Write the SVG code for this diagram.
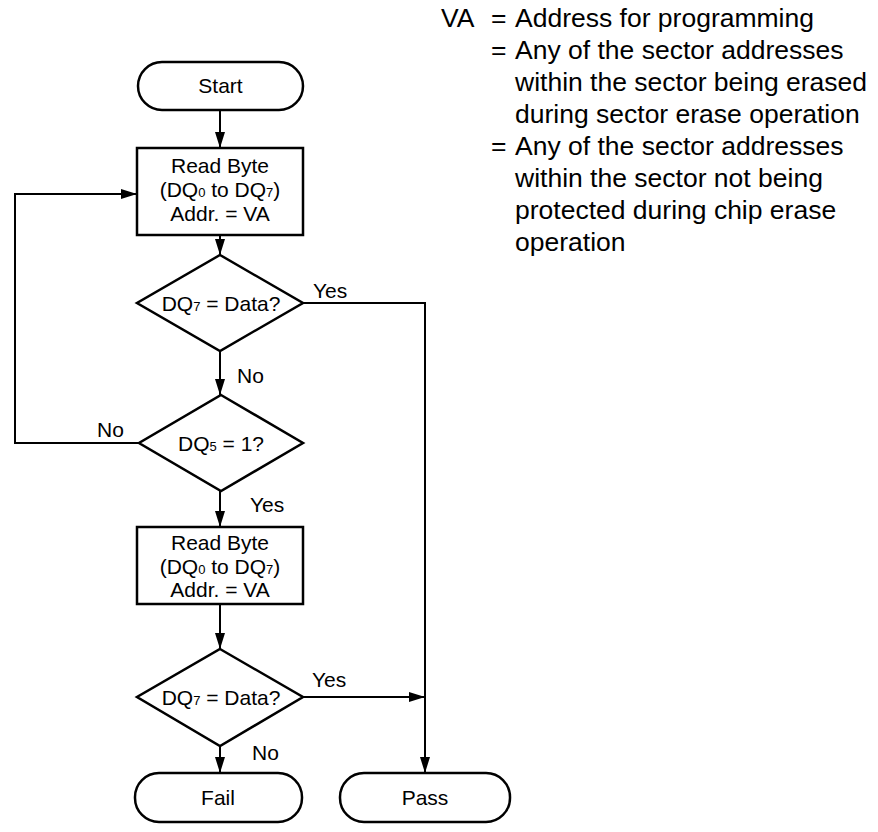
<svg xmlns="http://www.w3.org/2000/svg" width="878" height="832" viewBox="0 0 878 832">
<defs>
<marker id="ah" markerWidth="16" markerHeight="10" refX="16" refY="5" orient="auto" markerUnits="userSpaceOnUse">
<path d="M0,0 L16,5 L0,10 Z" fill="#000"/>
</marker>
<style>
.s{fill:#fff;stroke:#000;stroke-width:2.5}
.c{fill:none;stroke:#000;stroke-width:2}
.t{font-family:"Liberation Sans",Arial,sans-serif;font-size:21px;fill:#000}
.m{text-anchor:middle}
.n{font-family:"Liberation Sans",Arial,sans-serif;font-size:26.5px;fill:#000}
.sub{font-size:13px}
</style>
</defs>
<rect width="878" height="832" fill="#fff"/>

<g id="connectors">
<path class="c" d="M220,110 V148" marker-end="url(#ah)"/>
<path class="c" d="M220,235 V255" marker-end="url(#ah)"/>
<path class="c" d="M303,303 H425 V773" marker-end="url(#ah)"/>
<path class="c" d="M220,351 V395" marker-end="url(#ah)"/>
<path class="c" d="M139,443 H15 V194 H137" marker-end="url(#ah)"/>
<path class="c" d="M220,491 V527" marker-end="url(#ah)"/>
<path class="c" d="M220,604 V649" marker-end="url(#ah)"/>
<path class="c" d="M303,697 H425" marker-end="url(#ah)"/>
<path class="c" d="M220,746 V773" marker-end="url(#ah)"/>
<text class="t" x="313" y="298">Yes</text>
<text class="t" x="237" y="383">No</text>
<text class="t" x="97" y="437">No</text>
<text class="t" x="250" y="512">Yes</text>
<text class="t" x="312" y="687">Yes</text>
<text class="t" x="252" y="760">No</text>
</g>

<g id="start">
<rect class="s" x="138" y="62" width="165" height="48" rx="24" ry="24"/>
<text class="t m" x="220.5" y="93">Start</text>
</g>

<g id="read1">
<rect class="s" x="137" y="148" width="166" height="87"/>
<text class="t m" x="220" y="173">Read Byte</text>
<text class="t m" x="220" y="197">(DQ<tspan class="sub">0</tspan> to DQ<tspan class="sub">7</tspan>)</text>
<text class="t m" x="220" y="221">Addr. = VA</text>
</g>

<g id="dec1">
<polygon class="s" points="220,255 303,303 220,351 137,303"/>
<text class="t m" x="221" y="311">DQ<tspan class="sub">7</tspan> = Data?</text>
</g>

<g id="dec2">
<polygon class="s" points="221,395 303,443 221,491 139,443"/>
<text class="t m" x="221" y="451">DQ<tspan class="sub">5</tspan> = 1?</text>
</g>

<g id="read2">
<rect class="s" x="137" y="527" width="166" height="77"/>
<text class="t m" x="220" y="550">Read Byte</text>
<text class="t m" x="220" y="574">(DQ<tspan class="sub">0</tspan> to DQ<tspan class="sub">7</tspan>)</text>
<text class="t m" x="220" y="597">Addr. = VA</text>
</g>

<g id="dec3">
<polygon class="s" points="220,649 303,697 220,746 137,697"/>
<text class="t m" x="221" y="705">DQ<tspan class="sub">7</tspan> = Data?</text>
</g>

<g id="fail">
<rect class="s" x="135" y="773" width="167" height="49" rx="24" ry="24"/>
<text class="t m" x="218" y="805">Fail</text>
</g>

<g id="pass">
<rect class="s" x="340" y="773" width="170" height="49" rx="24" ry="24"/>
<text class="t m" x="425" y="805">Pass</text>
</g>

<g id="notes">
<text class="n" x="441" y="27">VA</text>
<text class="n" x="491" y="27">=</text>
<text class="n" x="515" y="27">Address for programming</text>
<text class="n" x="491" y="59">=</text>
<text class="n" x="515" y="59">Any of the sector addresses</text>
<text class="n" x="515" y="91">within the sector being erased</text>
<text class="n" x="515" y="123">during sector erase operation</text>
<text class="n" x="491" y="155">=</text>
<text class="n" x="515" y="155">Any of the sector addresses</text>
<text class="n" x="515" y="187">within the sector not being</text>
<text class="n" x="515" y="219">protected during chip erase</text>
<text class="n" x="515" y="251">operation</text>
</g>
</svg>
